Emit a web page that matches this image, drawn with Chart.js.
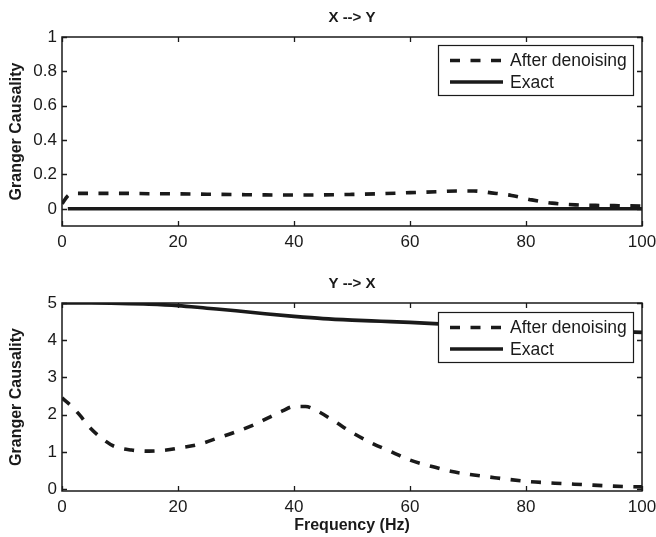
<!DOCTYPE html>
<html>
<head>
<meta charset="utf-8">
<script src="https://cdn.jsdelivr.net/npm/chart.js@4/dist/chart.umd.min.js"></script>
<style>
  html, body { margin: 0; padding: 0; background: #fff; }
  #wrap { position: relative; width: 656px; height: 537px; }
  #c1 { position: absolute; left: 0; top: 0; }
  #c2 { position: absolute; left: 0; top: 268px; }
</style>
</head>
<body>
<div id="wrap">
  <canvas id="c1" width="656" height="268"></canvas>
  <canvas id="c2" width="656" height="269"></canvas>
</div>
<script>
// ---------- DATA ----------
const titleTop = "X --> Y";
const titleBottom = "Y --> X";
const seriesNames = ["After denoising", "Exact"];
const yAxisLabel = "Granger Causality";
const xAxisLabel = "Frequency (Hz)";

const xTicks = [0, 20, 40, 60, 80, 100];
const yTicksTop = [0, 0.2, 0.4, 0.6, 0.8, 1];
const yTicksBottom = [0, 1, 2, 3, 4, 5];

// X --> Y
const freqDenoiseXY = [0, 1, 2, 5, 10, 15, 20, 25, 30, 35, 40, 45, 50, 55, 60, 65, 68, 71, 74, 77.5, 81, 84.5, 88.5, 92, 96, 100];
const valDenoiseXY  = [0.03, 0.075, 0.09, 0.09, 0.09, 0.088, 0.087, 0.085, 0.083, 0.081, 0.08, 0.081, 0.084, 0.088, 0.094, 0.1, 0.104, 0.104, 0.093, 0.078, 0.052, 0.033, 0.023, 0.02, 0.018, 0.016];
const freqExactXY = [1, 100];
const valExactXY  = [0, 0];

// Y --> X
const freqDenoiseYX = [0, 1.5, 3, 5, 7, 9, 12, 15, 18, 20, 23.5, 27, 30, 33, 36, 38, 40, 42, 44, 47, 50, 53.5, 57, 60, 64, 67, 71, 75, 80, 85, 90, 95, 100];
const valDenoiseYX  = [2.45, 2.25, 2.0, 1.62, 1.35, 1.15, 1.05, 1.02, 1.05, 1.1, 1.2, 1.38, 1.54, 1.72, 1.95, 2.1, 2.22, 2.22, 2.1, 1.82, 1.52, 1.23, 0.99, 0.78, 0.6, 0.48, 0.38, 0.3, 0.21, 0.16, 0.12, 0.08, 0.06];
const freqExactYX = [0, 5, 10, 15, 20, 25, 30, 35, 40, 45, 50, 55, 60, 65, 70, 75, 80, 85, 90, 95, 100];
const valExactYX  = [5.0, 5.0, 4.99, 4.97, 4.93, 4.86, 4.79, 4.71, 4.64, 4.58, 4.54, 4.51, 4.48, 4.44, 4.4, 4.37, 4.33, 4.3, 4.27, 4.24, 4.21];

// ---------- HELPERS ----------
const INK = '#1a1a1a';
const FONT = "'Liberation Sans', Arial, Helvetica, sans-serif";
const pts = (xs, ys) => xs.map((x, i) => ({ x: x, y: ys[i] }));

const boxPlugin = {
  id: 'matlabBox',
  afterDraw(chart) {
    const { ctx, chartArea: a, scales } = chart;
    const tl = 5;
    ctx.save();
    ctx.strokeStyle = INK;
    ctx.lineWidth = 1.3;
    ctx.beginPath();
    scales.x.ticks.forEach(t => {
      const px = Math.round(scales.x.getPixelForValue(t.value)) + 0.5;
      ctx.moveTo(px, a.bottom); ctx.lineTo(px, a.bottom - tl);
      ctx.moveTo(px, a.top); ctx.lineTo(px, a.top + tl);
    });
    scales.y.ticks.forEach(t => {
      const py = Math.round(scales.y.getPixelForValue(t.value)) + 0.5;
      ctx.moveTo(a.left, py); ctx.lineTo(a.left + tl, py);
      ctx.moveTo(a.right, py); ctx.lineTo(a.right - tl, py);
    });
    ctx.stroke();
    ctx.lineWidth = 1.5;
    ctx.strokeRect(a.left, a.top, a.right - a.left, a.bottom - a.top);
    ctx.restore();
  }
};

const legendBoxPlugin = {
  id: 'legendBox',
  afterDatasetsDraw(chart, args, opts) {
    const { ctx, chartArea: a } = chart;
    const w = 195, h = 50;
    const x = a.right - 9 - w;
    const y = a.top + opts.offsetTop;
    ctx.save();
    ctx.fillStyle = '#fff';
    ctx.fillRect(x, y, w, h);
    ctx.strokeStyle = INK;
    ctx.lineWidth = 1.2;
    ctx.strokeRect(x + 0.5, y + 0.5, w, h);
    const rows = [y + 15.5, y + 37];
    chart.data.datasets.forEach((ds, i) => {
      const ry = rows[i];
      ctx.beginPath();
      ctx.setLineDash(ds.borderDash || []);
      ctx.lineWidth = ds.borderWidth;
      ctx.strokeStyle = ds.borderColor;
      ctx.moveTo(x + 12, ry); ctx.lineTo(x + 65, ry);
      ctx.stroke();
      ctx.setLineDash([]);
      ctx.fillStyle = INK;
      ctx.font = "17.5px " + FONT;
      ctx.textBaseline = 'middle';
      ctx.textAlign = 'left';
      ctx.fillText(ds.label, x + 72, ry + 1);
    });
    ctx.restore();
  }
};

function makeChart(canvasId, title, titlePad, dsDen, dsExact, yMin, yMax, yTicks, xTitle, xAxisH, legendTop) {
  return new Chart(document.getElementById(canvasId), {
    type: 'line',
    data: {
      datasets: [
        { label: seriesNames[0], data: dsDen, borderColor: INK, borderWidth: 3.6, borderDash: [10, 10.5],
          pointRadius: 0, tension: 0.4, cubicInterpolationMode: 'monotone', fill: false },
        { label: seriesNames[1], data: dsExact, borderColor: INK, borderWidth: 3.6,
          pointRadius: 0, tension: 0.4, cubicInterpolationMode: 'monotone', fill: false }
      ]
    },
    options: {
      responsive: false,
      animation: false,
      events: [],
      layout: { padding: { left: 0, right: 14, top: 0, bottom: 0 } },
      plugins: {
        legend: { display: false },
        tooltip: { enabled: false },
        title: { display: true, text: title, color: INK, fullSize: false,
                 font: { family: FONT, size: 15, weight: 'bold', lineHeight: 1.2 },
                 padding: titlePad },
        legendBox: { offsetTop: legendTop }
      },
      scales: {
        x: {
          type: 'linear', min: 0, max: 100,
          afterBuildTicks: s => { s.ticks = xTicks.map(v => ({ value: v })); },
          afterFit: s => { s.height = xAxisH; s.paddingLeft = 0; s.paddingRight = 0; },
          grid: { display: false, drawTicks: false },
          border: { display: false },
          ticks: { color: INK, padding: 6.5, maxRotation: 0, autoSkip: false,
                   font: { family: FONT, size: 17 }, callback: v => String(v) },
          title: { display: !!xTitle, text: xTitle || '', color: INK,
                   font: { family: FONT, size: 16, weight: 'bold', lineHeight: 1.2 },
                   padding: { top: 0, bottom: 2 } }
        },
        y: {
          type: 'linear', min: yMin, max: yMax,
          afterBuildTicks: s => { s.ticks = yTicks.map(v => ({ value: v })); },
          afterFit: s => { s.width = 62; s.paddingTop = 0; s.paddingBottom = 0; },
          grid: { display: false, drawTicks: false },
          border: { display: false },
          ticks: { color: INK, padding: 5, autoSkip: false,
                   font: { family: FONT, size: 17 }, callback: v => String(v) },
          title: { display: true, text: yAxisLabel, color: INK,
                   font: { family: FONT, size: 16, weight: 'bold', lineHeight: 1.2 },
                   padding: { top: 7, bottom: 0 } }
        }
      }
    },
    plugins: [boxPlugin, legendBoxPlugin]
  });
}

makeChart('c1', titleTop, { top: 9, bottom: 10 },
  pts(freqDenoiseXY, valDenoiseXY), pts(freqExactXY, valExactXY),
  -0.1, 1, yTicksTop, null, 42, 8);

makeChart('c2', titleBottom, { top: 7.3, bottom: 9.7 },
  pts(freqDenoiseYX, valDenoiseYX), pts(freqExactYX, valExactYX),
  -0.05, 5, yTicksBottom, xAxisLabel, 46, 9);
</script>
</body>
</html>
